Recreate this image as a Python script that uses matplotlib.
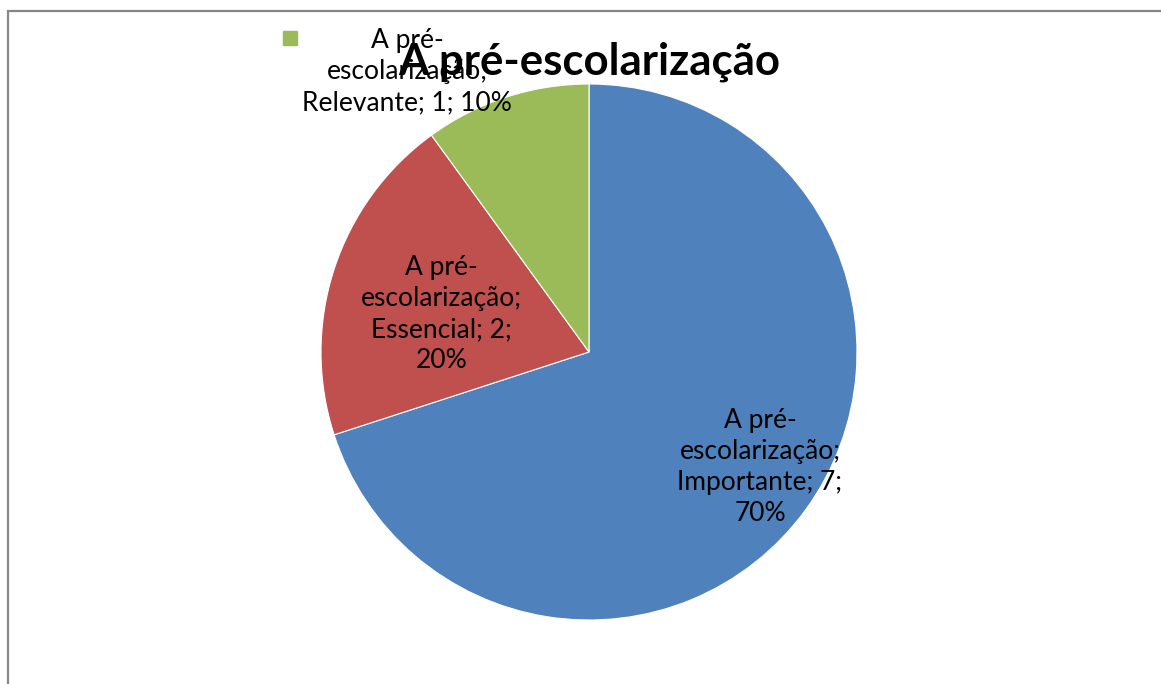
import matplotlib.pyplot as plt
from matplotlib.patches import Rectangle

plt.rcParams['font.family'] = ['Lato', 'DejaVu Sans']

# dados
categorias = ['Importante', 'Essencial', 'Relevante']
valores = [7, 2, 1]
percentagens = ['70%', '20%', '10%']
cores = ['#4F81BD', '#C0504D', '#9BBB59']
titulo = 'A pré-escolarização'

rotulos = [
    'A pré-\nescolarização;\nImportante; 7;\n70%',
    'A pré-\nescolarização;\nEssencial; 2;\n20%',
    'A pré-\nescolarização;\nRelevante; 1; 10%',
]
pos_rotulos = [(0.638, -0.429), (-0.549, 0.142), (-0.679, 1.045)]

fig = plt.figure(figsize=(11.61, 6.84), dpi=100)
fig.patch.set_facecolor('white')

# moldura cinzenta (cortada à direita e em baixo)
fig.patches.append(Rectangle((8 / 1161, -0.1), 1.2, 1 - 11 / 684 + 0.1,
                             transform=fig.transFigure, fill=False,
                             edgecolor='#868686', linewidth=1.6))

cx, cy, r = 589 / 1161, 1 - 352 / 684, 268
w, h = 2 * r / 1161, 2 * r / 684
ax = fig.add_axes([cx - w / 2, cy - h / 2, w, h])
ax.pie(valores, colors=cores, startangle=90, counterclock=False,
       wedgeprops=dict(edgecolor='white', linewidth=0.8))
ax.set_xlim(-1, 1)
ax.set_ylim(-1, 1)
ax.set_aspect('equal')
ax.axis('off')

for txt, (x, y) in zip(rotulos, pos_rotulos):
    ax.text(x, y, txt, ha='center', va='center', fontsize=19,
            linespacing=1.3, color='black', clip_on=False)

# marcador da legenda
ax.plot([-1.116], [1.173], marker='s', markersize=10, color=cores[2],
        linestyle='none', clip_on=False)

fig.text(cx, 1 - 62 / 684, titulo, ha='center', va='center',
         fontsize=31.5, fontweight='bold', color='black')

fig.savefig('out.png', dpi=100)
